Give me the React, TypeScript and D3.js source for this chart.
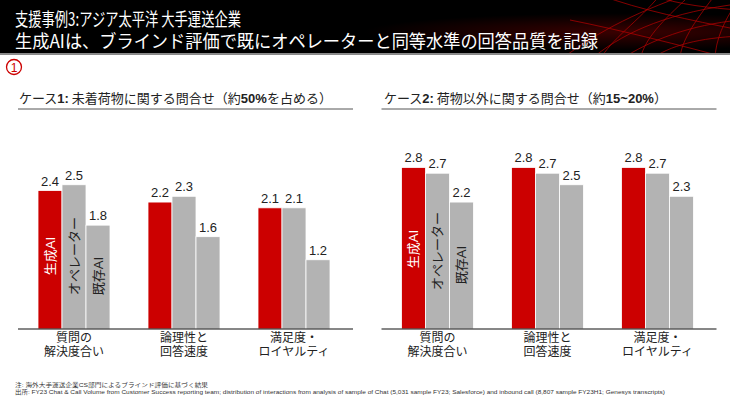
import React from "react";
import * as d3 from "d3";

const categories = ["質問の\n解決度合い", "論理性と\n回答速度", "満足度・\nロイヤルティ"];
const seriesNames = ["生成AI", "オペレーター", "既存AI"];
const case1Values = [
  [2.4, 2.5, 1.8],
  [2.2, 2.3, 1.6],
  [2.1, 2.1, 1.2],
];
const case2Values = [
  [2.8, 2.7, 2.2],
  [2.8, 2.7, 2.5],
  [2.8, 2.7, 2.3],
];
const seriesColors = ["#CC0000", "#B3B3B3", "#B3B3B3"];
const seriesLabelColors = ["#ffffff", "#222222", "#222222"];

const W = 730;
const H = 399;
const FONT = "'Liberation Sans', Arial, 'Noto Sans CJK JP', sans-serif";
const JP = "'Noto Sans CJK JP', sans-serif";

const baseY = 329;
const y = d3.scaleLinear().domain([0, 3]).range([baseY, baseY - 3 * 57.7]);

type PanelProps = {
  x0: number;
  x1: number;
  values: number[][];
  title: React.ReactNode;
  titleX: number;
  labelY: number[];
};

const Panel = ({ x0, x1, values, title, titleX, labelY }: PanelProps) => {
  const x = d3.scalePoint<string>().domain(categories).range([x0, x1]).padding(0.5);
  const inner = d3.scaleBand<string>().domain(seriesNames).range([-36, 36]);
  return (
    <g>
      <text x={titleX} y={103} fontSize={13} fill="#222" fontFamily={FONT}>
        {title}
      </text>
      <line x1={x0 - 1} x2={x1 + 4} y1={109} y2={109} stroke="#555" strokeWidth={1} />
      {categories.map((c, ci) => {
        const cx = x(c)!;
        return (
          <g key={c}>
            {seriesNames.map((s, si) => {
              const v = values[ci][si];
              const bx = cx + inner(s)!;
              return (
                <g key={s}>
                  <rect
                    x={bx}
                    y={y(v)}
                    width={inner.bandwidth()}
                    height={baseY - y(v)}
                    fill={seriesColors[si]}
                    stroke="#fff"
                    strokeWidth={0.8}
                  />
                  <text
                    x={bx + inner.bandwidth() / 2}
                    y={y(v) - 5}
                    textAnchor="middle"
                    fontSize={13}
                    fill="#222"
                    fontFamily={FONT}
                  >
                    {d3.format(".1f")(v)}
                  </text>
                  {ci === 0 && (
                    <text
                      transform={`translate(${bx + inner.bandwidth() / 2 + 4.5},${labelY[si]}) rotate(-90)`}
                      textAnchor="middle"
                      fontSize={13}
                      fill={seriesLabelColors[si]}
                      fontFamily={FONT}
                    >
                      {s}
                    </text>
                  )}
                </g>
              );
            })}
            <text x={cx} y={341.5} textAnchor="middle" fontSize={12} fill="#222" fontFamily={JP}>
              {c.split("\n").map((line, li) => (
                <tspan key={li} x={cx} dy={li === 0 ? 0 : 14.5}>
                  {line}
                </tspan>
              ))}
            </text>
          </g>
        );
      })}
      <line x1={x0 - 1} x2={x1 + 4} y1={baseY} y2={baseY} stroke="#111" strokeWidth={1.2} />
    </g>
  );
};

// decorative red mesh in header
const meshLines = [
  "M560,60 C600,30 640,10 700,-10",
  "M590,60 C620,35 660,15 730,5",
  "M620,60 C650,40 690,25 740,20",
  "M650,60 C670,45 700,38 740,36",
  "M600,60 C610,40 640,20 660,-5",
  "M640,60 C645,35 670,15 690,-5",
  "M680,60 C680,40 700,15 715,-5",
  "M715,60 C715,40 725,20 735,5",
  "M570,20 C620,30 680,45 735,60",
  "M600,-5 C640,10 690,20 740,30",
  "M650,-5 C680,5 710,8 740,10",
];

export default function App() {
  return (
    <svg width={W} height={H} style={{ display: "block", position: "absolute", left: 0, top: 0 }}>
      <defs>
        <radialGradient id="glow" cx="0.85" cy="0.6" r="0.35">
          <stop offset="0%" stopColor="#3a0000" />
          <stop offset="100%" stopColor="#000" />
        </radialGradient>
        <clipPath id="hdr">
          <rect x={0} y={0} width={W} height={53} />
        </clipPath>
      </defs>
      <rect x={0} y={0} width={W} height={H} fill="#fff" />
      <rect x={0} y={0} width={W} height={53} fill="url(#glow)" />
      <g clipPath="url(#hdr)">
        {meshLines.map((d, i) => (
          <path key={i} d={d} fill="none" stroke="#b00000" strokeWidth={1} opacity={0.75} />
        ))}
      </g>
      <rect x={0} y={53} width={W} height={2} fill="#8a8a8a" />
      <text x={15} y={26} fontSize={18} fill="#fff" fontFamily={JP}>
        <tspan x={15} textLength={226} lengthAdjust="spacingAndGlyphs">
          支援事例3:アジア太平洋 大手運送企業
        </tspan>
        <tspan x={15} dy={22} textLength={583} lengthAdjust="spacingAndGlyphs">
          生成AIは、ブラインド評価で既にオペレーターと同等水準の回答品質を記録
        </tspan>
      </text>

      <circle cx={14} cy={67} r={7.5} fill="none" stroke="#CC0000" strokeWidth={1.3} />
      <text x={14} y={71.5} textAnchor="middle" fontSize={12} fill="#CC0000" fontFamily={FONT}>
        1
      </text>

      <Panel
        x0={19}
        x1={349}
        values={case1Values}
        titleX={19}
        labelY={[256, 256, 276]}
        title={
          <>
            <tspan fontFamily={JP}>ケース</tspan>
            <tspan fontWeight="bold">1:</tspan>
            <tspan fontFamily={JP}> 未着荷物に関する問合せ（約</tspan>
            <tspan fontWeight="bold">50%</tspan>
            <tspan fontFamily={JP}>を占める）</tspan>
          </>
        }
      />
      <Panel
        x0={382.5}
        x1={712.5}
        values={case2Values}
        titleX={384}
        labelY={[249, 251, 265]}
        title={
          <>
            <tspan fontFamily={JP}>ケース</tspan>
            <tspan fontWeight="bold">2:</tspan>
            <tspan fontFamily={JP}> 荷物以外に関する問合せ（約</tspan>
            <tspan fontWeight="bold">15~20%</tspan>
            <tspan fontFamily={JP}>）</tspan>
          </>
        }
      />

      <text x={15} y={387} fontSize={5.5} fill="#333" fontFamily={FONT}>
        <tspan x={15} textLength={193} lengthAdjust="spacingAndGlyphs">
          注: 海外大手運送企業CS部門によるブラインド評価に基づく結果
        </tspan>
        <tspan x={15} dy={7} textLength={650} lengthAdjust="spacingAndGlyphs">
          出所: FY23 Chat &amp; Call Volume from Customer Success reporting team; distribution of interactions from analysis of sample of Chat (5,031 sample FY23; Salesforce) and inbound call (8,807 sample FY23H1; Genesys transcripts)
        </tspan>
      </text>
    </svg>
  );
}
